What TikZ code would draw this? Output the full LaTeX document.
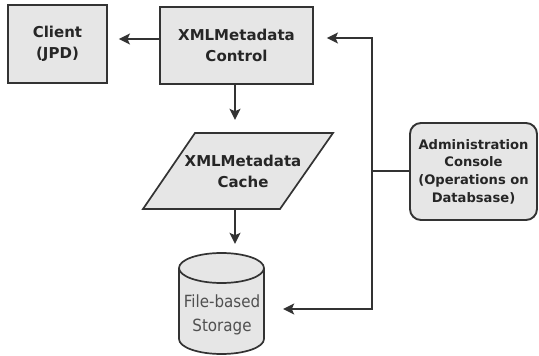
\documentclass[tikz,border=0pt]{standalone}
\usepackage{fontspec}
\setmainfont{DejaVu Sans}
\newfontfamily\condfont{DejaVu Sans Condensed}
\usetikzlibrary{arrows.meta}
\definecolor{edgecol}{HTML}{333333}
\definecolor{boxfill}{HTML}{E6E6E6}
\definecolor{txtcol}{HTML}{262626}
\definecolor{graytxt}{HTML}{505050}
\begin{document}
\begin{tikzpicture}[x=1pt,y=-1pt,
  box/.style={draw=edgecol, line width=1.9pt, fill=boxfill, inner sep=0pt,
    font=\fontsize{15}{21}\selectfont\bfseries, text=txtcol, align=center},
  plaintext/.style={inner sep=0pt, font=\fontsize{15}{21}\selectfont\bfseries, text=txtcol, align=center},
  arr/.style={draw=edgecol, line width=1.8pt, -{Stealth[length=11pt,width=11pt,inset=2.5pt]}},
  conn/.style={draw=edgecol, line width=1.8pt},
  edge/.style={draw=edgecol, line width=1.7pt}]
\useasboundingbox (0,0) rectangle (539,356);
\fill[white] (0,0) rectangle (539,356);

\node[box, minimum width=99pt, minimum height=78pt] (client) at (57.5,44) {Client\\(JPD)};
\node[box, minimum width=153pt, minimum height=77pt] (control) at (236.5,45.5) {XMLMetadata\\Control};

% cache parallelogram
\filldraw[edge, fill=boxfill, line join=miter] (195,133) -- (333,133) -- (280,209) -- (143,209) -- cycle;
\node[plaintext, minimum height=76pt] (cache) at (243,171) {XMLMetadata\\Cache};

% storage cylinder
\path[fill=boxfill] (179,268) -- (179,339) arc[start angle=180,end angle=360,x radius=42.5pt,y radius=15pt]
   -- (264,268) arc[start angle=0,end angle=180,x radius=42.5pt,y radius=15pt] -- cycle;
\draw[edge] (179,268) -- (179,339) arc[start angle=180,end angle=360,x radius=42.5pt,y radius=15pt] -- (264,268);
\draw[edge, fill=boxfill] (221.5,268) ellipse[x radius=42.5pt, y radius=15pt];
\node[inner sep=0pt, minimum width=85pt, minimum height=101pt] (storage) at (221.5,303.5) {};
\node[inner sep=0pt, font=\condfont\fontsize{16.8}{24}\selectfont, text=graytxt, align=center] (storagetext) at (222,315) {File-based\\Storage};

% admin
\node[box, rounded corners=11pt, minimum width=127pt, minimum height=97pt,
  font=\fontsize{13.1}{17.7}\selectfont\bfseries] (admin) at (473.5,171.5)
  {Administration\\Console\\(Operations on\\Databsase)};

% connectors
\coordinate (bustop) at (372,38);
\coordinate (busbot) at (372,309);
\draw[arr, shorten >=11pt] ([yshift=6.5pt]control.west) -- ([yshift=6.5pt]control.west -| client.east);
\draw[arr, shorten >=13pt] ([xshift=-1.5pt]control.south) -- ([xshift=-1.5pt]control.south |- cache.north);
\draw[arr, shorten >=9pt] ([xshift=-1.5pt]control.south |- cache.south) -- ([xshift=-1.5pt]control.south |- storage.north);
\draw[conn] ([yshift=0.5pt]admin.west) -- ([yshift=0.5pt]admin.west -| bustop);
\draw[arr, shorten >=13pt, line join=miter] (busbot) -- (bustop) -- (bustop -| control.east);
\draw[arr, shorten >=19pt, line join=miter] (bustop) -- (busbot) -- (busbot -| storage.east);
\end{tikzpicture}
\end{document}
